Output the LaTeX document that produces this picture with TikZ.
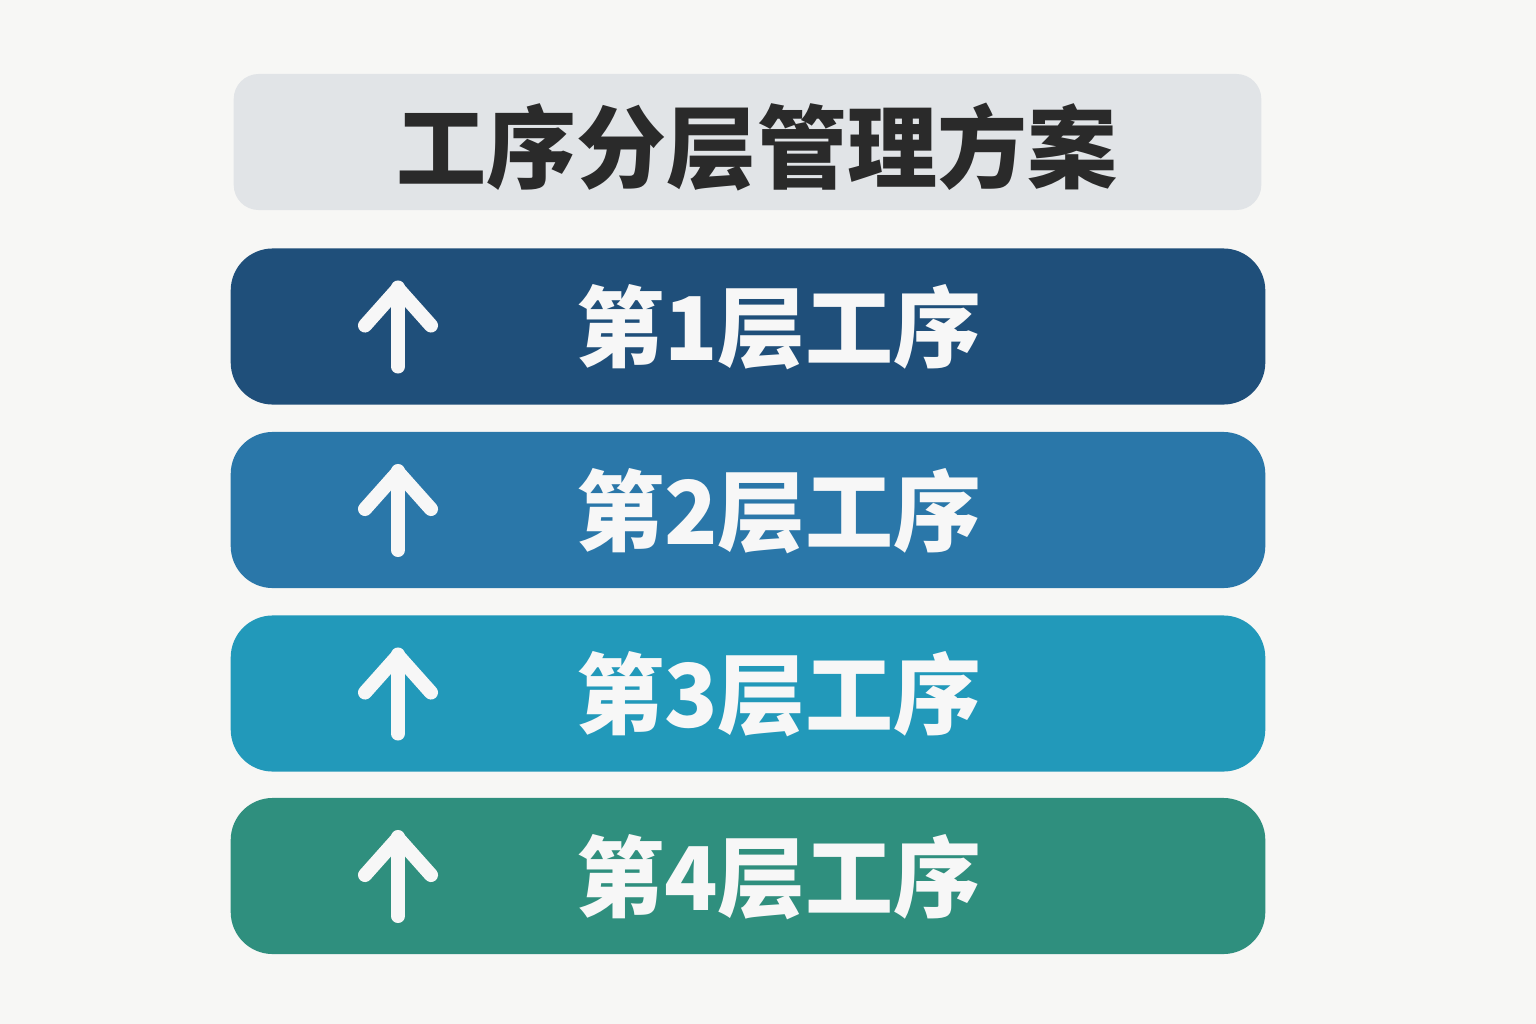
\documentclass[tikz,border=0pt]{standalone}
\usepackage{fontspec}
\setmainfont{Noto Sans CJK SC}
\definecolor{page}{RGB}{247,247,245}
\definecolor{ink}{RGB}{42,42,42}
\definecolor{headbg}{RGB}{225,228,231}
\definecolor{layA}{RGB}{31,79,122}
\definecolor{layB}{RGB}{42,119,169}
\definecolor{layC}{RGB}{34,153,186}
\definecolor{layD}{RGB}{47,143,126}

\begin{document}
\begin{tikzpicture}[x=0.01cm, y=-0.01cm,
    head/.style={rounded corners=0.25cm, fill=headbg, minimum width=10.27cm,
                 minimum height=1.36cm, inner sep=0pt},
    bar/.style={rounded corners=0.42cm, minimum width=10.34cm,
                minimum height=1.56cm, inner sep=0pt},
    headtext/.style={font=\fontsize{25.6}{30}\selectfont\bfseries, color=ink},
    bartext/.style={font=\fontsize{25}{30}\selectfont\bfseries, color=white!97!black},
    uparrow/.style={line width=4pt, color=white!97!black, line cap=round, line join=round}]

  % ---- page -----------------------------------------------------------------
  \fill[page] (0,0) rectangle (1536,1024);
  \useasboundingbox (0,0) rectangle (1536,1024);

  % ---- title ----------------------------------------------------------------
  \node[head] (head) at (747.5,142) {};
  \node[headtext] (headlab) at (757,147) {工序分层管理方案};

  % ---- the four layers ------------------------------------------------------
  \foreach \i/\y/\c in {1/326.5/layA, 2/510/layB, 3/693.5/layC, 4/876/layD} {
    \node[bar, fill=\c] (lay\i) at (748,\y) {};
    \node[bartext] (lab\i) at (779,\y+1) {第\i 层工序};
    \draw[uparrow] (398,\y+40) -- (398,\y-39);
    \draw[uparrow] (365,\y-1) -- (398,\y-38) -- (431,\y-1);
  }
\end{tikzpicture}
\end{document}
